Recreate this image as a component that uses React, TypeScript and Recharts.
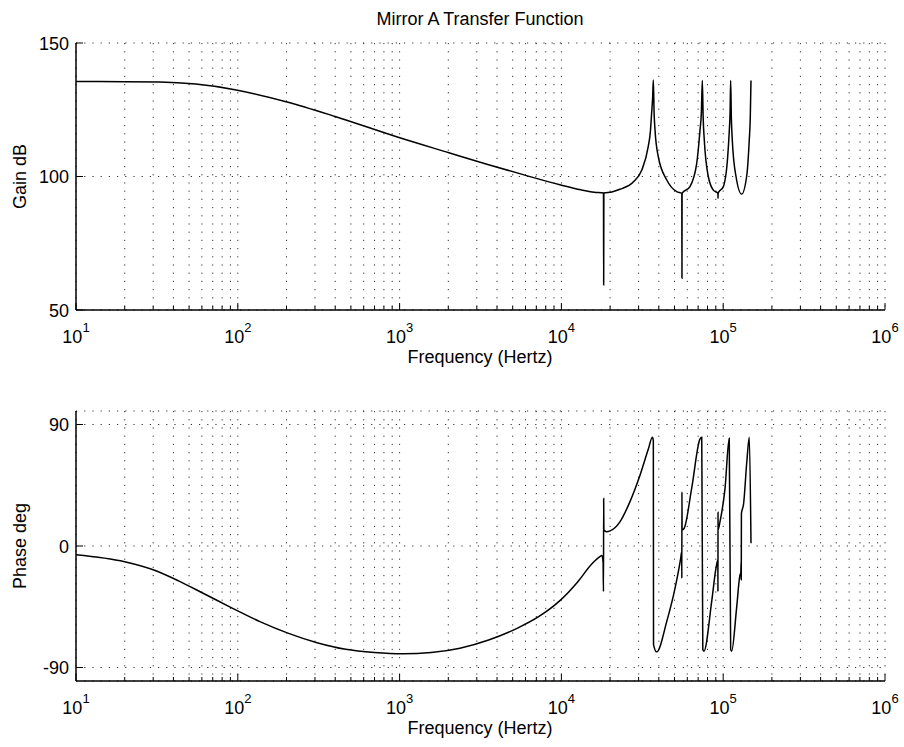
import { LineChart, Line, XAxis, YAxis, CartesianGrid } from "recharts";

const FONT = '"Liberation Sans", Arial, Helvetica, sans-serif';

// log-frequency ticks (grid on every 1..9 x decade)
const FREQ_TICKS = [
  10, 20, 30, 40, 50, 60, 70, 80, 90,
  100, 200, 300, 400, 500, 600, 700, 800, 900,
  1000, 2000, 3000, 4000, 5000, 6000, 7000, 8000, 9000,
  10000, 20000, 30000, 40000, 50000, 60000, 70000, 80000, 90000,
  100000, 200000, 300000, 400000, 500000, 600000, 700000, 800000, 900000,
  1000000,
];
const DECADES = [10, 100, 1000, 10000, 100000, 1000000];
const DECADE_EXP = ["1", "2", "3", "4", "5", "6"];
const GAIN_TICKS = [50, 100, 150];
const PHASE_TICKS = [-90, 0, 90];

// gain curve
const GAIN_FREQ = [
  10, 20, 33, 55, 96, 196, 399, 991, 2018, 3548, 5875, 9790, 13200, 16000,
  18200, 18250, 18300, 20500, 23000, 27900, 31400, 34400, 35500, 36100, 36600, 37000,
  37400, 37900, 39700, 44800, 51600, 55500, 55600, 55700, 62300, 68600, 71900, 73300, 74300,
  75200, 76400, 80900, 86900, 92800, 92900, 93000, 100200, 106600, 109100, 110300, 111200,
  112300, 113800, 120000, 130000, 139600, 144900, 147000, 148500,
];
const GAIN_DB = [
  135.6, 135.5, 135.4, 134.6, 132.5, 128.1, 122.5, 114.6, 108.9, 104.4, 100.6, 96.9, 95.0, 94.1,
  93.8, 59.4, 93.8, 94.2, 95.2, 98.0, 102.4, 111.2, 117.0, 123.6, 129.0, 136.1,
  124.0, 117.4, 107.4, 98.7, 94.3, 93.7, 61.9, 93.7, 96.2, 104.9, 117.4, 124.0, 136.0,
  122.0, 113.7, 100.0, 94.9, 93.7, 91.8, 93.7, 96.2, 107.4, 117.4, 124.0, 136.0,
  122.0, 113.7, 100.0, 93.4, 100.0, 113.7, 122.0, 136.0,
];

// phase curve
const PHASE_FREQ = [
  10, 20, 30, 43, 61, 91, 137, 206, 309, 464, 698, 1050, 1570, 2360, 3550, 5320, 7230, 9790,
  12600, 15500, 17200, 17800, 18100, 18200, 18250, 18300, 19000, 20000, 23000, 26500, 30600,
  34500, 36500, 37000, 37100, 38800, 44800, 50400, 54600, 55400, 55500, 55600, 55700, 57300,
  63800, 71900, 73700, 74800, 76000, 84900, 90200, 92700, 92800, 92900, 93000, 95500, 102600,
  109000, 111200, 112800, 121000, 127000, 128500, 129000, 129300, 129600, 130500, 133300,
  139900, 145000, 148500,
];
const PHASE_DEG = [
  -6.4, -11.6, -17.6, -25.8, -35.0, -45.6, -56.0, -64.7, -71.6, -76.5, -78.9, -79.9, -78.9, -75.7,
  -69.6, -61.0, -52.4, -40.5, -26.6, -13.0, -8.0, -7.0, -12.0, -33.7, 35.2, 12.0, 10.6, 11.2,
  17.9, 32.7, 52.4, 72.0, 80.6, 78.0, -73.0, -78.4, -55.8, -31.2, -9.1, -4.2, -23.8, 40.0, 12.0,
  13.0, 42.5, 79.4, 80.6, -76.7, -77.9, -41.0, -16.5, -10.3, -33.7, 25.3, 12.0, 17.9, 42.5,
  79.9, -76.7, -77.9, -46.0, -21.4, -20.0, -12.0, -25.0, 24.0, 26.0, 30.2, 62.2, 80.6, 2.0,
];

const gainData = GAIN_FREQ.map((f, i) => ({ f, v: GAIN_DB[i] }));
const phaseData = PHASE_FREQ.map((f, i) => ({ f, v: PHASE_DEG[i] }));

// MATLAB style: ticks point inward on every side
const BottomTick = (props: any) => {
  const { x, y, payload } = props;
  const i = DECADES.indexOf(payload.value);
  return (
    <g>
      <line x1={x} x2={x} y1={y} y2={y - (i >= 0 ? 7 : 4)} stroke="#000" />
      {i >= 0 && (
        <text x={x} y={y + 33} textAnchor="middle" fontFamily={FONT} fontSize={18} fill="#000">
          10<tspan dy={-11} fontSize={13}>{DECADE_EXP[i]}</tspan>
        </text>
      )}
    </g>
  );
};

const TopTick = (props: any) => {
  const { x, y, payload } = props;
  const major = DECADES.includes(payload.value);
  return <line x1={x} x2={x} y1={y} y2={y + (major ? 7 : 4)} stroke="#000" />;
};

const LeftTick = (props: any) => {
  const { x, y, payload } = props;
  return (
    <g>
      <line x1={x} x2={x + 7} y1={y} y2={y} stroke="#000" />
      <text x={x - 7} y={y + 6.5} textAnchor="end" fontFamily={FONT} fontSize={18} fill="#000">
        {payload.value}
      </text>
    </g>
  );
};

const RightTick = (props: any) => {
  const { x, y } = props;
  return <line x1={x} x2={x - 7} y1={y} y2={y} stroke="#000" />;
};

interface PanelProps {
  data: { f: number; v: number }[];
  domain: [number, number];
  yTicks: number[];
  top: number;
  height: number;
  marginTop: number;
  axisHeight: number;
}

const BodePanel = ({ data, domain, yTicks, top, height, marginTop, axisHeight }: PanelProps) => (
  <div style={{ position: "absolute", left: 0, top }}>
    <LineChart width={904} height={height} data={data} margin={{ top: marginTop, right: 19, bottom: 0, left: 0 }}>
      <CartesianGrid stroke="#333" strokeDasharray="1.2 7" />
      <XAxis
        dataKey="f"
        type="number"
        scale="log"
        domain={[10, 1000000]}
        allowDataOverflow
        ticks={FREQ_TICKS}
        interval={0}
        height={axisHeight}
        tickSize={0}
        tickMargin={0}
        tickLine={false}
        tick={<BottomTick />}
        axisLine={{ stroke: "#000", strokeWidth: 1.5 }}
      />
      <XAxis
        xAxisId="top"
        orientation="top"
        dataKey="f"
        type="number"
        scale="log"
        domain={[10, 1000000]}
        allowDataOverflow
        ticks={FREQ_TICKS}
        interval={0}
        height={0}
        tickSize={0}
        tickMargin={0}
        tickLine={false}
        tick={<TopTick />}
        axisLine={{ stroke: "#000", strokeWidth: 1.5 }}
      />
      <YAxis
        type="number"
        domain={domain}
        ticks={yTicks}
        interval={0}
        width={76}
        tickSize={0}
        tickMargin={0}
        tickLine={false}
        tick={<LeftTick />}
        axisLine={{ stroke: "#000", strokeWidth: 1.5 }}
      />
      <YAxis
        yAxisId="right"
        orientation="right"
        type="number"
        domain={domain}
        ticks={yTicks}
        interval={0}
        width={0}
        tickSize={0}
        tickMargin={0}
        tickLine={false}
        tick={<RightTick />}
        axisLine={{ stroke: "#000", strokeWidth: 1.5 }}
      />
      <Line
        type="monotone"
        dataKey="v"
        stroke="#000"
        strokeWidth={1.5}
        dot={false}
        activeDot={false}
        isAnimationActive={false}
      />
    </LineChart>
  </div>
);

export default function App() {
  return (
    <div style={{ position: "absolute", left: 0, top: 0, width: 904, height: 747, background: "#fff" }}>
      <BodePanel data={gainData} domain={[50, 150]} yTicks={GAIN_TICKS} top={0} height={350} marginTop={43} axisHeight={40} />
      <BodePanel data={phaseData} domain={[-100, 100]} yTicks={PHASE_TICKS} top={370} height={377} marginTop={41} axisHeight={66} />
      <svg
        width={904}
        height={747}
        style={{ position: "absolute", left: 0, top: 0, pointerEvents: "none" }}
        fontFamily={FONT}
        fill="#000"
      >
        <text x={480} y={25} textAnchor="middle" fontSize={18}>Mirror A Transfer Function</text>
        <text x={480} y={363} textAnchor="middle" fontSize={18}>Frequency (Hertz)</text>
        <text x={480} y={734} textAnchor="middle" fontSize={18}>Frequency (Hertz)</text>
        <text transform="translate(26,176.5) rotate(-90)" textAnchor="middle" fontSize={18}>Gain dB</text>
        <text transform="translate(26,546) rotate(-90)" textAnchor="middle" fontSize={18}>Phase deg</text>
      </svg>
    </div>
  );
}
